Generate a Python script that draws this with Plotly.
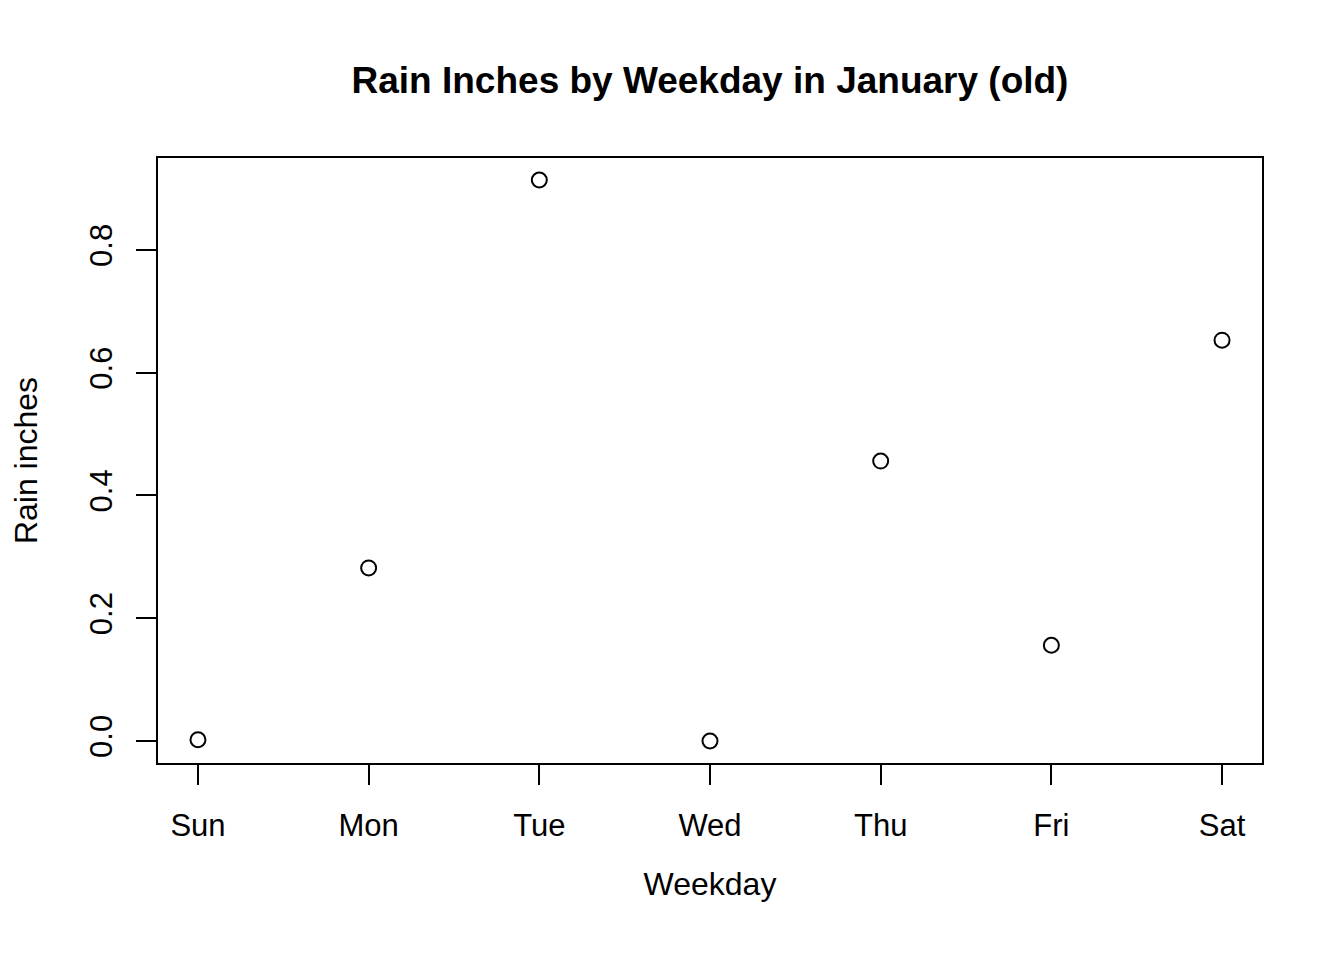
import plotly.graph_objects as go

days = ["Sun", "Mon", "Tue", "Wed", "Thu", "Fri", "Sat"]
day_num = [1, 2, 3, 4, 5, 6, 7]
rain = [0.002, 0.282, 0.914, 0.0, 0.456, 0.156, 0.653]
y_ticks = [0.0, 0.2, 0.4, 0.6, 0.8]

font = "Liberation Sans, Arial, sans-serif"

fig = go.Figure(go.Scatter(
    x=day_num, y=rain, mode="markers",
    marker=dict(symbol="circle-open", size=15, color="black", line=dict(width=2)),
))

fig.update_layout(
    width=1344, height=960,
    paper_bgcolor="white", plot_bgcolor="white",
    margin=dict(l=149, r=89, t=149, b=204),
    showlegend=False,
    font=dict(family=font, size=27, color="black"),
    title=dict(text="<b>Rain Inches by Weekday in January (old)</b>",
               x=(149 + 1255) / 2 / 1344, xanchor="center",
               y=1 - 72 / 960, yanchor="middle",
               font=dict(size=37)),
)
fig.update_xaxes(
    range=[0.76, 7.24], tickvals=day_num, ticktext=days,
    ticks="outside", ticklen=20, tickwidth=2, tickcolor="black",
    tickfont=dict(size=31), ticklabelstandoff=14,
    showgrid=False, zeroline=False, showline=False,
    title=dict(text="Weekday", standoff=30),
)
fig.update_yaxes(
    range=[-0.0375, 0.9515], tickvals=y_ticks,
    ticktext=[f"{v:.1f}" for v in y_ticks], tickangle=-90,
    ticks="outside", ticklen=20, tickwidth=2, tickcolor="black",
    tickfont=dict(size=31), ticklabelstandoff=12,
    showgrid=False, zeroline=False, showline=False,
    title=dict(text="Rain inches", standoff=40),
)
fig.add_shape(type="rect", xref="paper", yref="paper", x0=0, y0=0, x1=1, y1=1,
              line=dict(color="black", width=2))

fig.write_html("out.html")
